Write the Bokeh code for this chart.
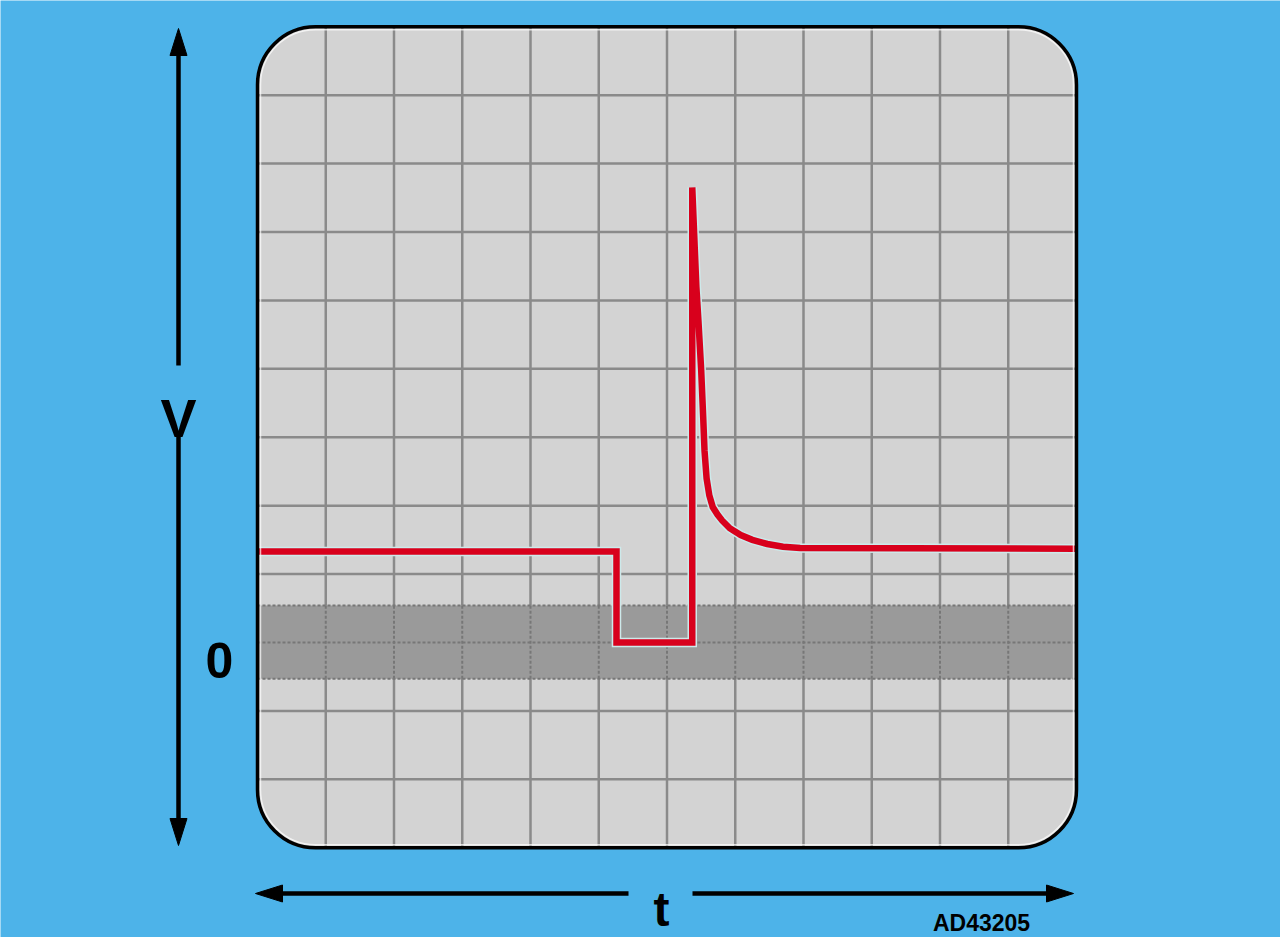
import numpy as np
from bokeh.plotting import figure
from bokeh.models import Range1d, Label
from bokeh.embed import file_html
from bokeh.resources import INLINE

# ---- data (in screen divisions) ----
trace_t = [0, 5.26, 5.26, 6.37, 6.37, 6.43, 6.46, 6.50, 6.53, 6.55, 6.58, 6.62, 6.67, 6.74,
           6.81, 6.92, 7.08, 7.25, 7.47, 7.70, 7.95, 12]
trace_v = [1.33, 1.33, 0, 0, 6.65, 5.2, 4.71, 4.0, 3.3, 2.8, 2.4, 2.15, 1.98, 1.87,
           1.78, 1.67, 1.57, 1.50, 1.44, 1.40, 1.38, 1.37]
screen_x = (0, 12)
screen_y = (-3, 9)
x_divisions = list(range(1, 12))
y_divisions = [d for d in range(-2, 9)]
band = (-0.53, 0.54)
v_label, zero_label, t_label, code_label = "V", "0", "t", "AD43205"

# ---- styles ----
BLUE = "#4db3e9"
SCREEN = "#d3d3d3"
GRID = "#8a8a8a"
BAND = "#9a9a9a"
RED = "#d8001c"
FONT = "Liberation Sans"

W, H = 1280, 937
SX, SY = 68.25, 68.42  # px per division
x0 = (0 - 257) / SX
x1 = (W - 257) / SX
y1 = (642 - 0) / SY
y0 = -(H - 642) / SY

p = figure(width=W, height=H, x_range=Range1d(x0, x1), y_range=Range1d(y0, y1),
           output_backend="svg", toolbar_location=None,
           x_axis_location=None, y_axis_location=None, min_border=0)
p.grid.visible = False
p.outline_line_color = None
p.background_fill_color = BLUE
p.border_fill_color = BLUE

# screen
p.quad(left=screen_x[0], right=screen_x[1], bottom=screen_y[0], top=screen_y[1],
       fill_color=SCREEN, line_color=None, border_radius=58)

# grid lines (solid)
p.segment(x0=x_divisions, y0=[screen_y[0]] * len(x_divisions),
          x1=x_divisions, y1=[screen_y[1]] * len(x_divisions),
          line_color=GRID, line_width=2.5)
p.segment(x0=[screen_x[0]] * len(y_divisions), y0=y_divisions,
          x1=[screen_x[1]] * len(y_divisions), y1=y_divisions,
          line_color=GRID, line_width=2.5)

# zero band
p.quad(left=screen_x[0], right=screen_x[1], bottom=band[0], top=band[1],
       fill_color=BAND, line_color=None)
p.segment(x0=x_divisions, y0=[band[0]] * len(x_divisions),
          x1=x_divisions, y1=[band[1]] * len(x_divisions),
          line_color="#777777", line_width=2, line_dash="3 2")
p.segment(x0=[screen_x[0]] * 3, y0=[band[0], 0, band[1]],
          x1=[screen_x[1]] * 3, y1=[band[0], 0, band[1]],
          line_color="#777777", line_width=2, line_dash="3 2")

# trace
p.line(trace_t, trace_v, line_color="#cde9ea", line_width=9.5, line_join="miter")
p.line(trace_t, trace_v, line_color=RED, line_width=6.5, line_join="miter")

# screen border
p.quad(left=screen_x[0] + 3 / SX, right=screen_x[1] - 3 / SX,
       bottom=screen_y[0] + 3 / SY, top=screen_y[1] - 3 / SY,
       fill_color=None, line_color="white", line_alpha=0.7, line_width=1.5, border_radius=55)
p.quad(left=screen_x[0], right=screen_x[1], bottom=screen_y[0], top=screen_y[1],
       fill_color=None, line_color="black", line_width=3.5, border_radius=58)

# arrows
HL, HW = 27, 8.5
ax = (178 - 257) / SX
v_top, v_bot = (642 - 28) / SY, -(845 - 642) / SY
v_gap = ((642 - 365) / SY, (642 - 433) / SY)
ay = -(893 - 642) / SY
h_left, h_right = (255 - 257) / SX, (1073 - 257) / SX
h_gap = ((628 - 257) / SX, (692 - 257) / SX)

p.segment(x0=[ax, ax], y0=[v_top - HL / SY + 0.05, v_gap[1]],
          x1=[ax, ax], y1=[v_gap[0], v_bot + HL / SY - 0.05],
          line_color="black", line_width=4.5)
p.segment(x0=[h_left + HL / SX - 0.05, h_gap[1]], y0=[ay, ay],
          x1=[h_gap[0], h_right - HL / SX + 0.05], y1=[ay, ay],
          line_color="black", line_width=4.5)
heads_x = [
    [ax, ax - HW / SX, ax + HW / SX],
    [ax, ax - HW / SX, ax + HW / SX],
    [h_left, h_left + HL / SX, h_left + HL / SX],
    [h_right, h_right - HL / SX, h_right - HL / SX],
]
heads_y = [
    [v_top, v_top - HL / SY, v_top - HL / SY],
    [v_bot, v_bot + HL / SY, v_bot + HL / SY],
    [ay, ay + HW / SY, ay - HW / SY],
    [ay, ay + HW / SY, ay - HW / SY],
]
p.patches(heads_x, heads_y, fill_color="black", line_color="black", line_width=1)

# labels
p.add_layout(Label(x=ax, y=(642 - 417) / SY, text=v_label, text_align="center",
                   text_baseline="alphabetic", text_font=FONT, text_font_style="bold",
                   text_font_size="54px", text_color="black"))
p.add_layout(Label(x=(219 - 257) / SX, y=-(660 - 642) / SY, text=zero_label, text_align="center",
                   text_baseline="alphabetic", text_font=FONT, text_font_style="bold",
                   text_font_size="50px", text_color="black"))
p.add_layout(Label(x=(661 - 257) / SX, y=-(909 - 642) / SY, text=t_label, text_align="center",
                   text_baseline="alphabetic", text_font=FONT, text_font_style="bold",
                   text_font_size="48px", text_color="black"))
p.add_layout(Label(x=(981 - 257) / SX, y=-(922 - 642) / SY, text=code_label, text_align="center",
                   text_baseline="alphabetic", text_font=FONT, text_font_style="bold",
                   text_font_size="23px", text_color="black"))

html = file_html(p, INLINE)
html = html.replace("<body>", '<body style="background:%s">' % BLUE, 1)
open("out.html", "w").write(html)
